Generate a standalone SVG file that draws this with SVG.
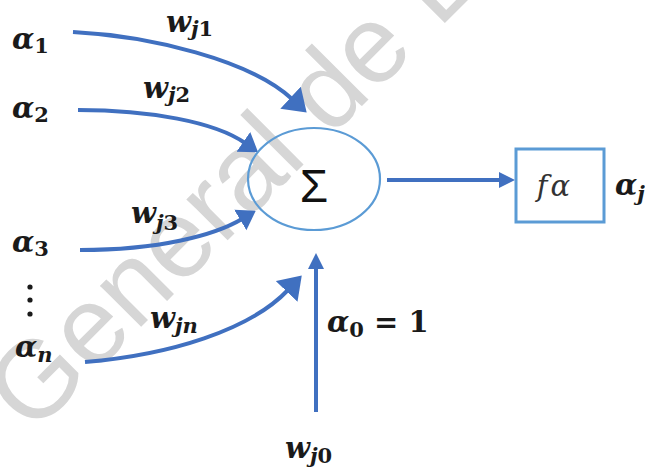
<svg xmlns="http://www.w3.org/2000/svg" width="645" height="470" viewBox="0 0 645 470">
<style>
.wm{font-family:"Liberation Sans",Arial,sans-serif;font-size:110px;fill:#d6d6d6}
.lbl{font-family:"DejaVu Serif","Liberation Serif",serif;font-weight:bold;font-style:italic;font-size:29px;fill:#1a1a1a}
.sub{font-size:21px;font-style:normal}
.subi{font-size:21px}
.conn{fill:none;stroke:#4070c0;stroke-width:4}
</style>
<defs>
<marker id="big" markerUnits="userSpaceOnUse" markerWidth="30" markerHeight="32" refX="2" refY="15" orient="auto"><path d="M0,0 L22,15 L0,30 Z" fill="#4070c0"/></marker>
<marker id="mid" markerUnits="userSpaceOnUse" markerWidth="26" markerHeight="26" refX="2" refY="12" orient="auto"><path d="M0,0 L18,12 L0,24 Z" fill="#4070c0"/></marker>
<marker id="small" markerUnits="userSpaceOnUse" markerWidth="20" markerHeight="20" refX="2" refY="8" orient="auto"><path d="M0,0 L16,8 L0,16 Z" fill="#4070c0"/></marker>
</defs>
<rect width="645" height="470" fill="#ffffff"/>
<text class="wm" transform="translate(32,436) rotate(-45)">General de E</text>
<g id="connectors">
<path class="conn" d="M73,32 C150,36 250,60 292,99" marker-end="url(#big)"/>
<path class="conn" d="M78,110 C150,110 215,122 245,143" marker-end="url(#mid)"/>
<path class="conn" d="M80,250 C160,250 215,235 242,219" marker-end="url(#mid)"/>
<path class="conn" d="M85,362 C170,355 250,330 288,290" marker-end="url(#big)"/>
<path class="conn" d="M387,180 L501,180" marker-end="url(#small)"/>
<path class="conn" d="M316,412 L316,267" marker-end="url(#small)"/>
</g>
<g id="sum">
<ellipse cx="314" cy="179" rx="66" ry="51" fill="none" stroke="#5b9bd5" stroke-width="2.2"/>
<text x="314" y="202" text-anchor="middle" font-family="Liberation Sans,Arial,sans-serif" font-size="46" fill="#111">Σ</text>
</g>
<g id="activation">
<rect x="516" y="149" width="88" height="73" fill="#fff" stroke="#5b9bd5" stroke-width="3"/>
<text x="555" y="196" text-anchor="middle" font-family="DejaVu Serif,serif" font-style="italic" font-size="29" letter-spacing="3" fill="#333">fα</text>
</g>
<g id="labels">
<text class="lbl" x="12" y="49">α<tspan class="sub" dy="4">1</tspan></text>
<text class="lbl" x="12" y="118">α<tspan class="sub" dy="4">2</tspan></text>
<text class="lbl" x="12" y="252">α<tspan class="sub" dy="4">3</tspan></text>
<text class="lbl" x="15" y="357">α<tspan class="subi" dy="5">n</tspan></text>
<circle cx="30" cy="287" r="2.6" fill="#1a1a1a"/>
<circle cx="30" cy="300" r="2.6" fill="#1a1a1a"/>
<circle cx="30" cy="314" r="2.6" fill="#1a1a1a"/>
<text class="lbl" x="166" y="32">w<tspan class="subi" dy="4">j</tspan><tspan class="sub">1</tspan></text>
<text class="lbl" x="143" y="98">w<tspan class="subi" dy="4">j</tspan><tspan class="sub">2</tspan></text>
<text class="lbl" x="131" y="223">w<tspan class="subi" dy="7">j</tspan><tspan class="sub">3</tspan></text>
<text class="lbl" x="150" y="328">w<tspan class="subi" dy="5">jn</tspan></text>
<text class="lbl" x="285" y="458">w<tspan class="subi" dy="5">j</tspan><tspan class="sub">0</tspan></text>
<text class="lbl" x="327" y="332">α<tspan class="sub" dy="5">0</tspan><tspan dy="-5" font-style="normal"> = 1</tspan></text>
<text class="lbl" x="615" y="195">α<tspan class="subi" dy="6">j</tspan></text>
</g>
</svg>
